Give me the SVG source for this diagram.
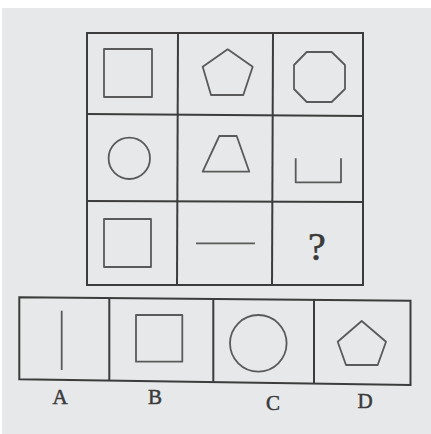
<svg xmlns="http://www.w3.org/2000/svg" width="431" height="434" viewBox="0 0 431 434">
<style>
.ln{fill:none;stroke:#3c3c3c;stroke-width:2}
.sh{fill:none;stroke:#5a5a5a;stroke-width:1.8;stroke-linejoin:round}
.lbl{font-family:"Liberation Serif",serif;font-size:21px;fill:#3a3a3a;stroke:#3a3a3a;stroke-width:0.5;text-anchor:middle}
</style>
<rect x="0" y="0" width="431" height="434" fill="#ffffff"/>
<rect x="2" y="8" width="429" height="426" fill="#e6e8e9"/>
<g id="grid">
<rect class="ln" x="87" y="33" width="276" height="252"/>
<line class="ln" x1="178" y1="33" x2="177" y2="285"/>
<line class="ln" x1="273" y1="33" x2="272" y2="285"/>
<line class="ln" x1="87" y1="114" x2="363" y2="116"/>
<line class="ln" x1="87" y1="201" x2="363" y2="202"/>
</g>
<g id="r1c1"><rect class="sh" x="104" y="49" width="48" height="48"/></g>
<g id="r1c2"><polygon class="sh" points="227.7,49.3 252.7,66.7 243.3,95 211,95 202.7,66.7"/></g>
<g id="r1c3"><polygon class="sh" points="306.7,52 331.7,52 345,65 345,89 331.7,102 306.7,102 294,89 294,65"/></g>
<g id="r2c1"><circle class="sh" cx="129.3" cy="158.3" r="20.7"/></g>
<g id="r2c2"><polygon class="sh" points="219.3,136 236.7,136 249.3,171.7 202.7,171.7"/></g>
<g id="r2c3"><polyline class="sh" points="295.7,158.3 295.7,182.3 341,182.3 341,158.3"/></g>
<g id="r3c1"><rect class="sh" x="104" y="219" width="47" height="48"/></g>
<g id="r3c2"><line class="sh" x1="196" y1="243.3" x2="255" y2="243.3"/></g>
<g id="r3c3"><text x="317" y="260" font-family="Liberation Serif,serif" font-size="40" fill="#3a3a3a" stroke="#3a3a3a" stroke-width="0.6" text-anchor="middle">?</text></g>
<g id="options">
<polygon class="ln" points="19.3,297.3 410.5,300.7 410.5,385 19.3,379.3"/>
<line class="ln" x1="109.3" y1="298" x2="109.3" y2="380"/>
<line class="ln" x1="213.3" y1="299" x2="213.3" y2="382"/>
<line class="ln" x1="314" y1="300" x2="314" y2="383"/>
</g>
<g id="optA"><line class="sh" x1="61.7" y1="310.7" x2="61.7" y2="370"/><text class="lbl" x="60" y="404">A</text></g>
<g id="optB"><rect class="sh" x="136" y="315" width="46.3" height="46.7"/><text class="lbl" x="155" y="404">B</text></g>
<g id="optC"><circle class="sh" cx="258.3" cy="343.3" r="28.3"/><text class="lbl" x="273" y="410">C</text></g>
<g id="optD"><polygon class="sh" points="361.7,321 386,341.7 377.7,365 346,365 337.7,341.7"/><text class="lbl" x="365" y="408">D</text></g>
</svg>
